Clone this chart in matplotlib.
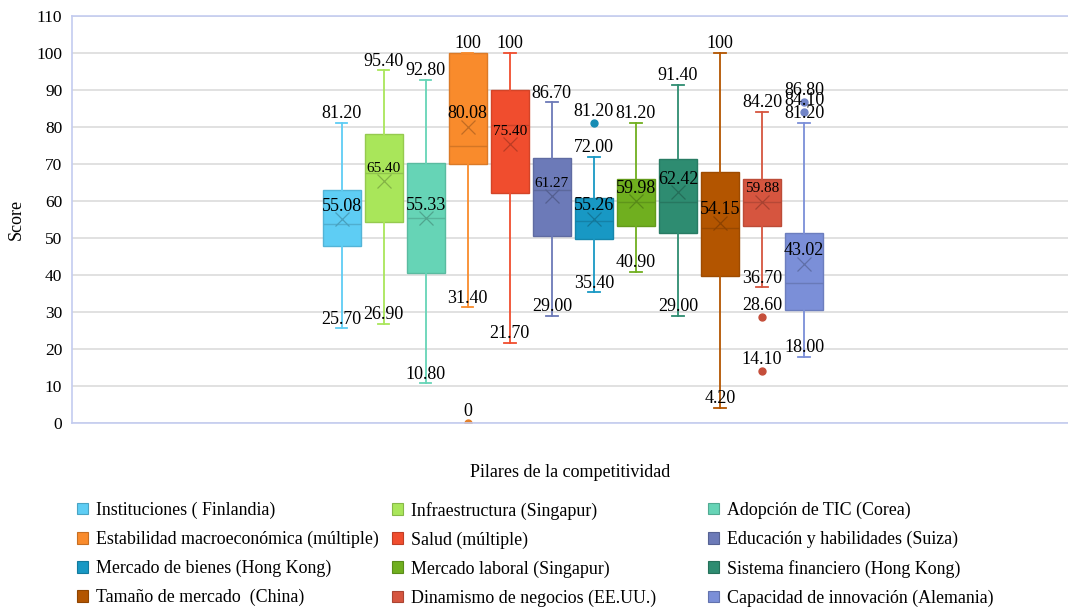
import numpy as np
import matplotlib.pyplot as plt
from matplotlib.patches import Patch
from matplotlib.colors import to_rgb

plt.rcParams['font.family'] = ['Liberation Serif', 'DejaVu Serif']

# pilares y sus estadisticos (Q1, mediana, Q3, bigotes, media, atipicos)
pilares = [
    'Instituciones ( Finlandia)', 'Infraestructura (Singapur)', 'Adopción de TIC (Corea)',
    'Estabilidad macroeconómica (múltiple)', 'Salud (múltiple)', 'Educación y habilidades (Suiza)',
    'Mercado de bienes (Hong Kong)', 'Mercado laboral (Singapur)', 'Sistema financiero (Hong Kong)',
    'Tamaño de mercado  (China)', 'Dinamismo de negocios (EE.UU.)', 'Capacidad de innovación (Alemania)',
]
q1 = [47.8, 54.3, 40.6, 70.1, 62.2, 50.7, 49.8, 53.4, 51.4, 39.8, 53.4, 30.6]
mediana = [53.8, 67.6, 55.5, 74.9, 80.5, 63.0, 54.6, 59.8, 59.8, 52.7, 59.8, 37.9]
q3 = [63.1, 78.0, 70.2, 100, 90.1, 71.7, 60.9, 66.1, 71.3, 67.9, 66.1, 51.4]
minimo = [25.7, 26.9, 10.8, 31.4, 21.7, 29.0, 35.4, 40.9, 29.0, 4.2, 36.7, 18.0]
maximo = [81.2, 95.4, 92.8, 100, 100, 86.7, 72.0, 81.2, 91.4, 100, 84.2, 81.2]
media = [55.08, 65.40, 55.33, 80.08, 75.40, 61.27, 55.26, 59.98, 62.42, 54.15, 59.88, 43.02]
atipicos = [[], [], [], [0], [], [], [81.2], [], [], [], [28.6, 14.1], [86.8, 84.1]]

colores = ['#5ECDF4', '#A9E65A', '#66D4B6', '#F98B2C', '#F04D2E', '#6C7AB8',
           '#1898C4', '#70AF1F', '#2E8C71', '#B35500', '#D6553F', '#7B8FD8']
# las medias que salen con letra mas chica
chicas = {1, 4, 5, 10}


def oscuro(c, f=0.78):
    r, g, b = to_rgb(c)
    return (r * f, g * f, b * f)


def etiqueta(v):
    if v in (0, 100):
        return '%d' % v
    return '%.2f' % v


fig = plt.figure(figsize=(10.68, 6.07), dpi=100)
ax = fig.add_axes([72 / 1068, 1 - 423.3 / 607, 996 / 1068, (423.3 - 16) / 607])

pos = np.arange(1, len(pilares) + 1)
for i in range(len(pilares)):
    c = colores[i]
    d = oscuro(c)
    st = dict(med=mediana[i], q1=q1[i], q3=q3[i], whislo=minimo[i], whishi=maximo[i],
              mean=media[i], fliers=atipicos[i])
    ax.bxp([st], positions=[pos[i]], widths=0.9, capwidths=0.27, showmeans=True,
           patch_artist=True,
           boxprops=dict(facecolor=c, edgecolor=oscuro(c, 0.88), linewidth=1),
           medianprops=dict(color=oscuro(c, 0.85), linewidth=1),
           whiskerprops=dict(color=c, linewidth=1.3),
           capprops=dict(color=c, linewidth=1.3),
           meanprops=dict(marker='x', markeredgecolor=d, markersize=10, markeredgewidth=0.9),
           flierprops=dict(marker='o', markerfacecolor=oscuro(c, 0.92),
                           markeredgecolor=oscuro(c, 0.92), markersize=5))

    # etiquetas de bigotes, media y atipicos
    for v in (maximo[i], minimo[i]):
        ax.annotate(etiqueta(v), (pos[i], v), xytext=(0, 6.5), textcoords='offset points',
                    ha='center', va='center', fontsize=13, zorder=5)
    ax.annotate(etiqueta(media[i]), (pos[i], media[i]), xytext=(0, 9.4),
                textcoords='offset points', ha='center', va='center',
                fontsize=11 if i in chicas else 13, zorder=5)
    for v in atipicos[i]:
        ax.annotate(etiqueta(v), (pos[i], v), xytext=(0, 8.3), textcoords='offset points',
                    ha='center', va='center', fontsize=13, zorder=5)

ax.set_xlim(1 - 6.417, 1 + 17.28)
ax.set_ylim(0, 110)
ax.set_yticks(range(0, 111, 10))
ax.set_xticks([])
ax.tick_params(axis='y', length=0, labelsize=12.5, pad=7)
ax.yaxis.grid(True, color='#dcdcdc', linewidth=1.2)
ax.set_axisbelow(True)
for lado in ('top', 'bottom', 'left'):
    ax.spines[lado].set_color('#c3ccf0')
    ax.spines[lado].set_linewidth(1.2)
ax.spines['right'].set_visible(False)

ax.set_ylabel('Score', fontsize=13, labelpad=8)
ax.set_xlabel('Pilares de la competitividad', fontsize=13, labelpad=29)

# leyenda en tres columnas de ancho fijo
manijas = [Patch(facecolor=c, edgecolor=oscuro(c, 0.8), linewidth=0.8) for c in colores]
for k, x in enumerate([77 / 1068, 392 / 1068, 708 / 1068]):
    fig.legend(manijas[k::3], pilares[k::3], loc='upper left', bbox_to_anchor=(x, 0.1735),
               frameon=False, fontsize=12.9, borderpad=0, borderaxespad=0,
               handlelength=0.63, handleheight=0.63, handletextpad=0.45, labelspacing=0.655)

fig.savefig('out.png', dpi=100)
